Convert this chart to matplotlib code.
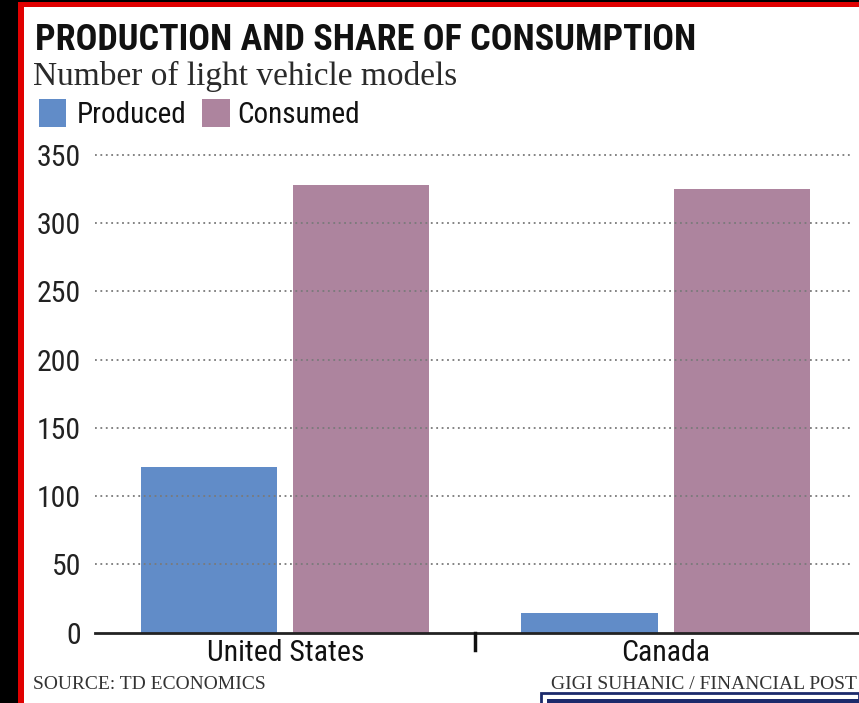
import matplotlib
matplotlib.use("Agg")
import matplotlib.pyplot as plt
from matplotlib import font_manager
from matplotlib.patches import Rectangle

# ---- data ----
categories = ["United States", "Canada"]
produced = [121, 14]
consumed = [328, 325]
series_names = ["Produced", "Consumed"]
yticks = [0, 50, 100, 150, 200, 250, 300, 350]

title = "PRODUCTION AND SHARE OF CONSUMPTION"
subtitle = "Number of light vehicle models"
source = "SOURCE: TD ECONOMICS"
credit = "GIGI SUHANIC / FINANCIAL POST"

BLUE = "#618cc8"
MAUVE = "#ad849e"
W, H = 859, 703

available = {f.name for f in font_manager.fontManager.ttflist}
condensed = None
for cand in ["Roboto Condensed", "Liberation Sans Narrow", "DejaVu Sans Condensed",
             "Open Sans Condensed"]:
    if cand in available:
        condensed = cand
        break
if condensed:
    NARROW = [condensed, "Roboto", "DejaVu Sans"]
    TITLE_FS, LAB_FS, TICK_FS = 26, 21, 21.5
else:
    NARROW = ["Roboto", "DejaVu Sans"]
    TITLE_FS, LAB_FS, TICK_FS = 23, 19, 19.5
SERIF = ["Liberation Serif", "DejaVu Serif"]

fig = plt.figure(figsize=(W / 100, H / 100), dpi=100)
fig.patch.set_facecolor("white")

def fx(x):
    return x / W

def fy(y):
    return 1 - y / H

# axes: left 95px, right 859px, y=0 at 632.5px, y=350 at 155px
ax = fig.add_axes([fx(95), fy(632.5), (W - 95) / W, (632.5 - 155) / H])
ax.set_xlim(-0.501, 1.509)
ax.set_ylim(0, 350)
ax.set_facecolor("none")
for s in ax.spines.values():
    s.set_visible(False)

xs = list(range(len(categories)))
off, bw = 0.2, 0.358
ax.bar([x - off for x in xs], produced, width=bw, color=BLUE, zorder=2)
ax.bar([x + off for x in xs], consumed, width=bw, color=MAUVE, zorder=2)

# dotted gridlines (drawn above bars)
for t in yticks[1:]:
    ax.axhline(t, xmin=0, xmax=0.991, color="#7a7a7a", lw=1.3,
               ls=(0, (1, 2)), zorder=3, clip_on=False)
# baseline
ax.axhline(0, color="#222222", lw=2, zorder=4, clip_on=False)
# category divider tick
ax.plot([0.5, 0.5], [0, -13], color="#111111", lw=2.5, clip_on=False, zorder=4)

ax.set_yticks(yticks)
ax.set_yticklabels([str(t) for t in yticks], fontfamily=NARROW, fontsize=TICK_FS,
                   color="#222222")
ax.tick_params(axis="y", length=0, pad=10)
ax.set_xticks(xs)
ax.set_xticklabels(categories, fontfamily=NARROW, fontsize=TICK_FS, color="#111111")
ax.tick_params(axis="x", length=0, pad=5)

# title & subtitle
fig.text(fx(35), fy(50), title, fontfamily=NARROW, fontweight="bold",
         fontsize=TITLE_FS, color="#111111", va="baseline", ha="left")
fig.text(fx(33), fy(85), subtitle, fontfamily=SERIF, fontsize=24,
         color="#2a2a2a", va="baseline", ha="left")

# legend
fig.add_artist(Rectangle((fx(39), fy(127)), 27 / W, 28 / H, transform=fig.transFigure,
                         facecolor=BLUE, edgecolor="none"))
fig.text(fx(77), fy(123), series_names[0], fontfamily=NARROW, fontsize=LAB_FS,
         color="#111111", va="baseline", ha="left")
fig.add_artist(Rectangle((fx(202), fy(127)), 28 / W, 28 / H, transform=fig.transFigure,
                         facecolor=MAUVE, edgecolor="none"))
fig.text(fx(237), fy(123), series_names[1], fontfamily=NARROW, fontsize=LAB_FS,
         color="#111111", va="baseline", ha="left")

# footer
fig.text(fx(33), fy(689), source, fontfamily=SERIF, fontsize=14,
         color="#333333", va="baseline", ha="left")
fig.text(fx(857), fy(689), credit, fontfamily=SERIF, fontsize=14,
         color="#333333", va="baseline", ha="right")

# bottom-right box fragment
fig.add_artist(Rectangle((fx(541), fy(705)), (W - 541) / W, 12 / H, transform=fig.transFigure,
                         facecolor="white", edgecolor="#1c2a6b", lw=2))
fig.add_artist(Rectangle((fx(547), fy(705)), (W - 547) / W, 6 / H, transform=fig.transFigure,
                         facecolor="#1c2a6b", edgecolor="none"))

# frame: black band + red border
fig.add_artist(Rectangle((0, 0), fx(18), 1, transform=fig.transFigure,
                         facecolor="black", edgecolor="none"))
fig.add_artist(Rectangle((fx(18), 0), 6 / W, 1, transform=fig.transFigure,
                         facecolor="#e00000", edgecolor="none"))
fig.add_artist(Rectangle((fx(18), fy(2)), 1, 2 / H, transform=fig.transFigure,
                         facecolor="black", edgecolor="none"))
fig.add_artist(Rectangle((fx(18), fy(7)), 1, 5 / H, transform=fig.transFigure,
                         facecolor="#e00000", edgecolor="none"))

fig.savefig("out.png", dpi=100, facecolor="white")
